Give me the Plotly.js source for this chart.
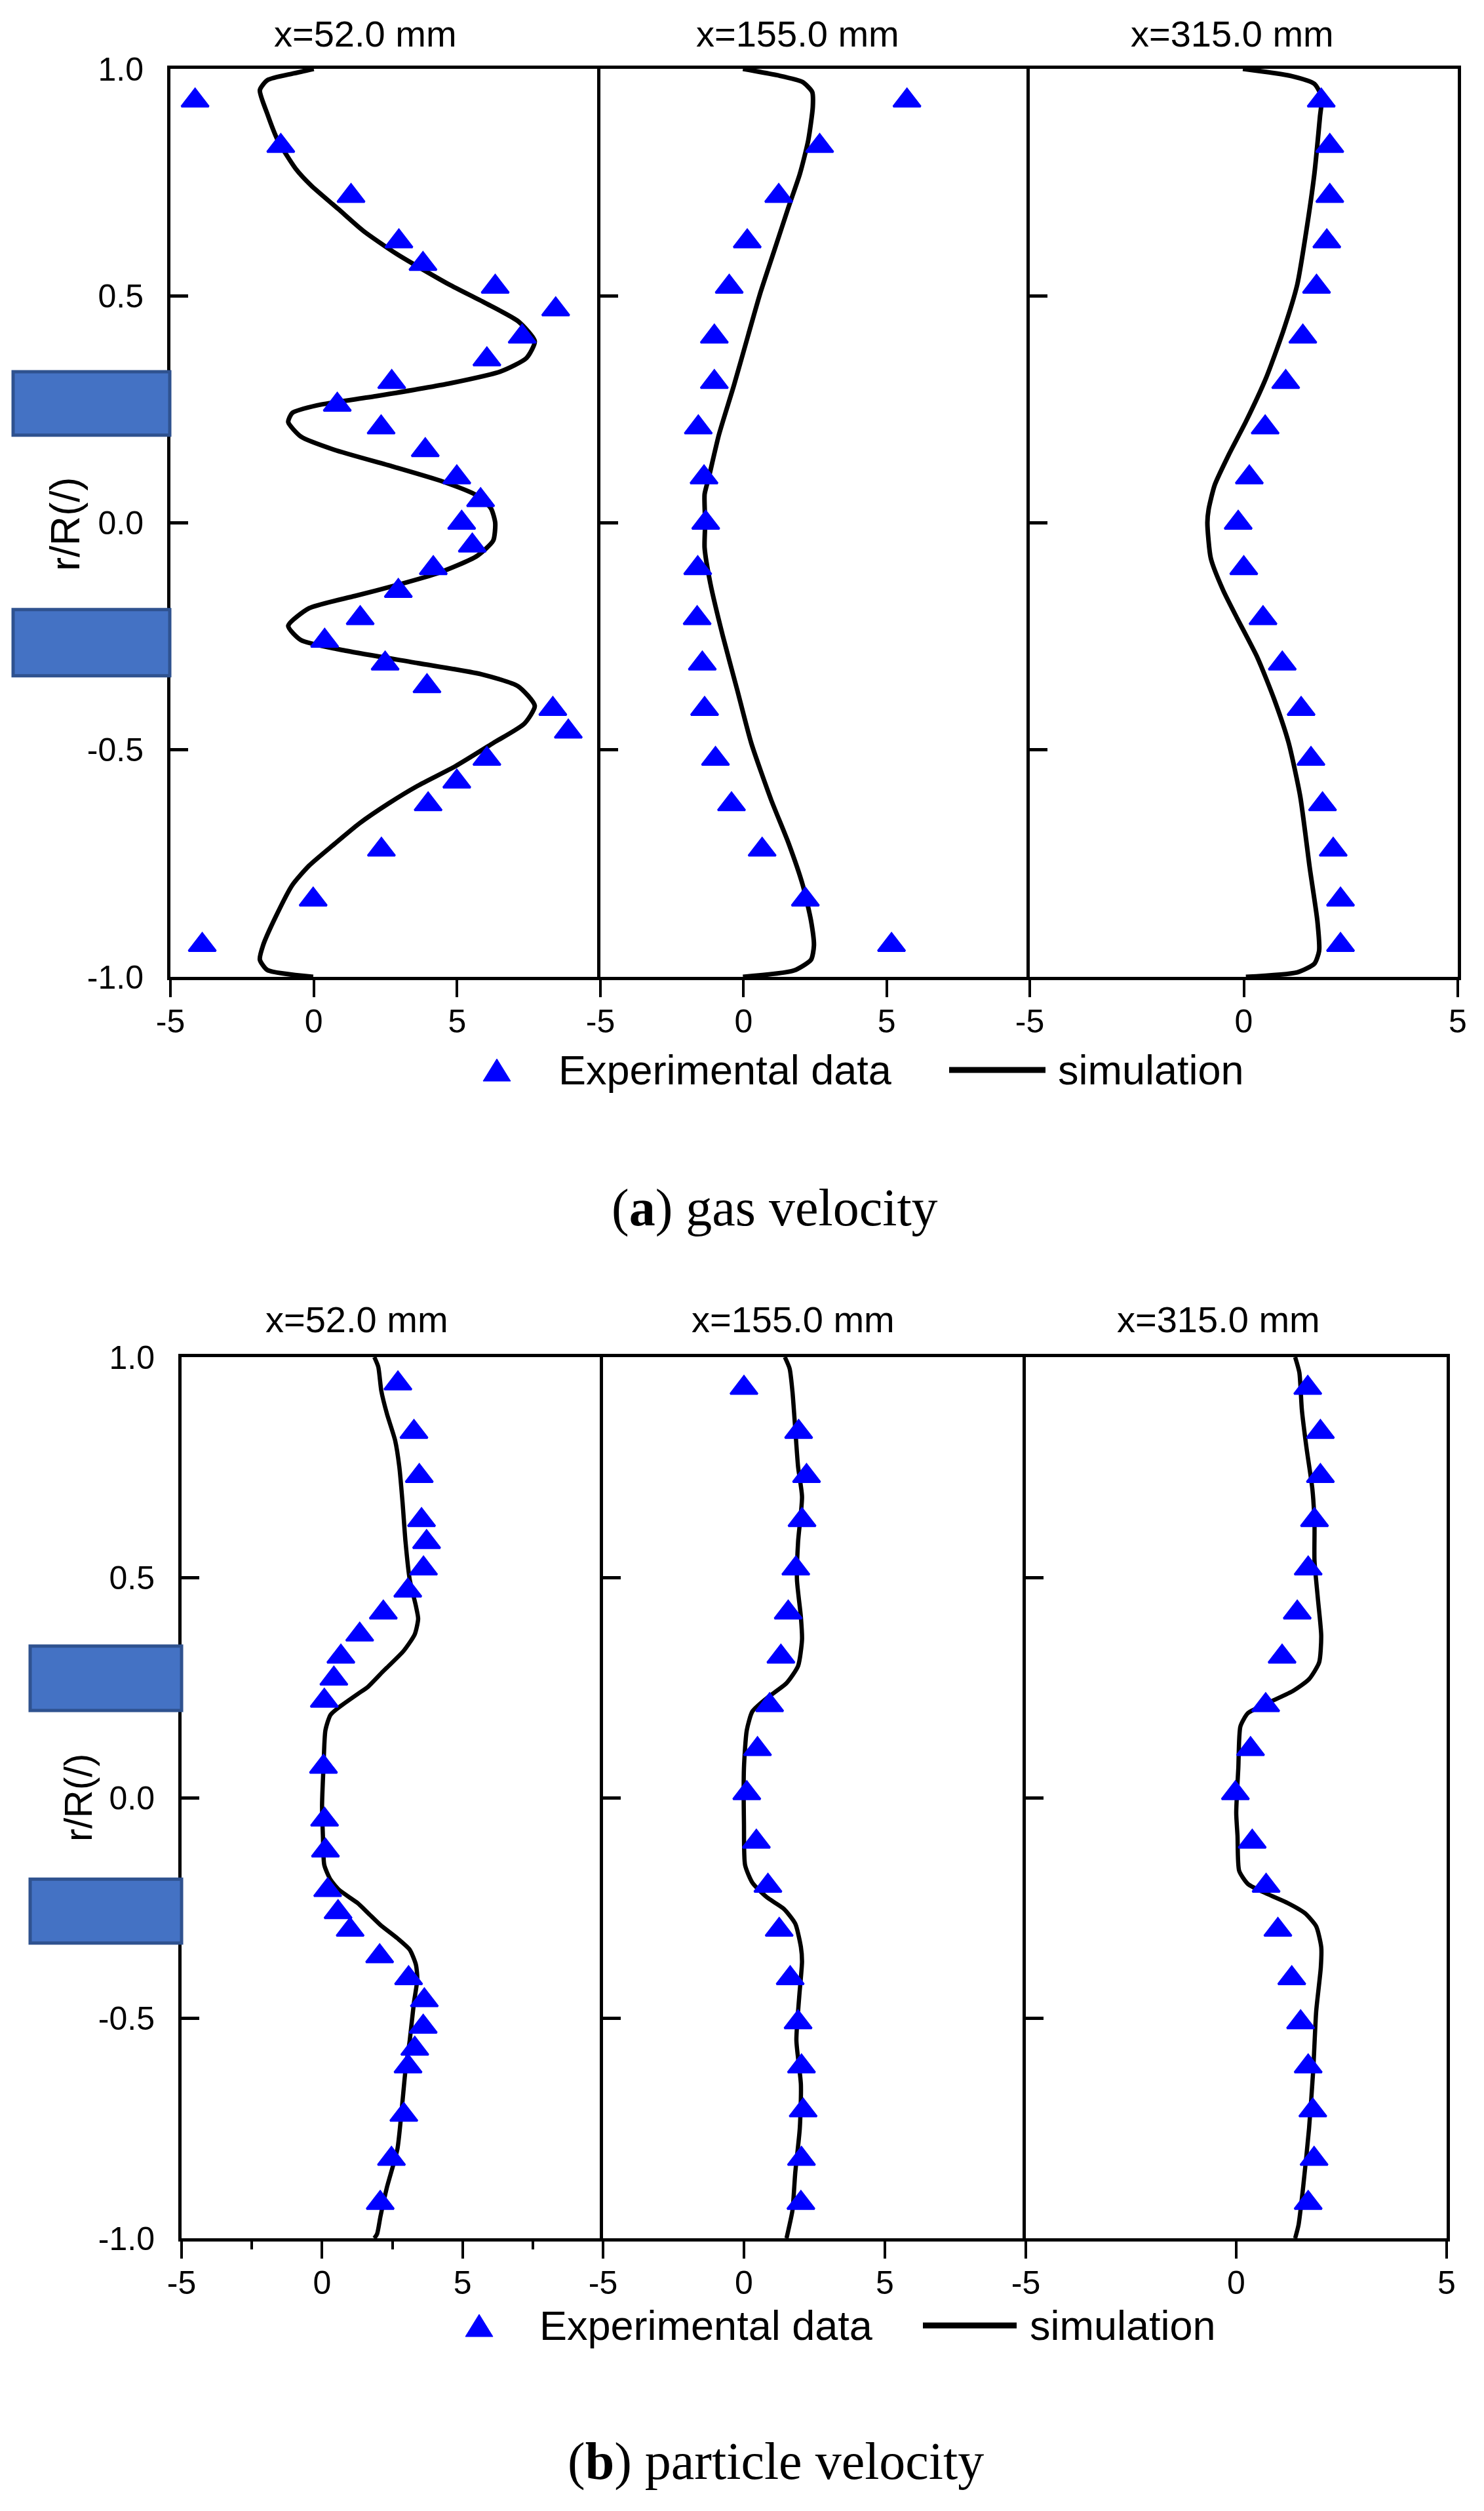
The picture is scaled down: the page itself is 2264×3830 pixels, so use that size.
<!DOCTYPE html>
<html>
<head>
<meta charset="utf-8">
<script src="https://cdn.plot.ly/plotly-3.0.1.min.js"></script>
<style>
  html, body { margin: 0; padding: 0; background: #ffffff; }
  #chart { width: 2264px; height: 3830px; }
</style>
</head>
<body>
<div id="chart"></div>
<script>
// ---------------- DATA ----------------
var panelTitles = ['x=52.0 mm', 'x=155.0 mm', 'x=315.0 mm'];
var yTickVals = [-1, -0.5, 0, 0.5, 1];
var yTickText = ['-1.0', '-0.5', '0.0', '0.5', '1.0'];
var xTickVals = [-5, 0, 5];
var xTickText = ['-5', '0', '5'];
var minorTickVals = [-2.5, 2.5, 7.5];

// (a) gas velocity - experimental
var gas52ExpR = [0.93,0.83,0.72,0.62,0.57,0.52,0.47,0.41,0.36,0.31,0.26,0.21,0.16,0.10,0.05,0.00,-0.05,-0.10,-0.15,-0.21,-0.26,-0.31,-0.36,-0.41,-0.46,-0.52,-0.57,-0.62,-0.72,-0.83,-0.93];
var gas52ExpV = [-4.14,-1.15,1.30,2.97,3.81,6.33,8.44,7.27,6.04,2.72,0.82,2.35,3.89,4.99,5.82,5.16,5.53,4.17,2.95,1.62,0.38,2.49,3.95,8.34,8.88,6.04,4.99,3.99,2.36,-0.02,-3.89];
var gas155ExpR = [0.93,0.83,0.72,0.62,0.52,0.41,0.31,0.21,0.10,0.00,-0.10,-0.21,-0.31,-0.41,-0.52,-0.62,-0.72,-0.83,-0.93];
var gas155ExpV = [5.71,2.66,1.23,0.13,-0.50,-1.02,-1.02,-1.58,-1.38,-1.32,-1.60,-1.62,-1.44,-1.36,-0.98,-0.42,0.65,2.16,5.17];
var gas315ExpR = [0.93,0.83,0.72,0.62,0.52,0.41,0.31,0.21,0.10,0.00,-0.10,-0.21,-0.31,-0.41,-0.52,-0.62,-0.72,-0.83,-0.93];
var gas315ExpV = [1.81,2.01,2.01,1.94,1.70,1.38,0.98,0.50,0.13,-0.13,0.00,0.45,0.90,1.34,1.57,1.84,2.09,2.26,2.26];

// (a) gas velocity - simulation
var gas52SimR = [1.0,0.99,0.975,0.953,0.901,0.842,0.780,0.743,0.691,0.643,0.592,0.525,0.485,0.444,0.400,0.363,0.334,0.308,0.279,0.259,0.242,0.222,0.190,0.161,0.124,0.091,0.061,0.032,0.0,-0.039,-0.074,-0.110,-0.137,-0.161,-0.188,-0.227,-0.258,-0.282,-0.309,-0.333,-0.360,-0.403,-0.442,-0.485,-0.536,-0.579,-0.618,-0.662,-0.708,-0.755,-0.798,-0.868,-0.931,-0.962,-0.985,-1.0];
var gas52SimV = [0.0,-0.7,-1.62,-1.88,-1.62,-1.25,-0.63,-0.09,0.86,1.73,2.90,4.72,5.96,7.13,7.71,7.42,6.54,4.80,2.17,0.13,-0.75,-0.89,-0.45,0.71,2.76,4.50,5.67,6.18,6.33,6.26,5.67,4.36,2.90,1.44,-0.16,-0.89,-0.45,1.15,3.63,5.82,7.13,7.71,7.35,6.26,4.94,3.63,2.61,1.59,0.71,-0.16,-0.75,-1.33,-1.77,-1.88,-1.62,-0.02];
var gas155SimR = [1.0,0.986,0.971,0.949,0.916,0.842,0.769,0.695,0.599,0.503,0.415,0.304,0.194,0.098,0.063,0.0,-0.055,-0.133,-0.250,-0.368,-0.485,-0.611,-0.705,-0.798,-0.877,-0.931,-0.962,-0.986,-1.0];
var gas155SimV = [-0.02,1.17,2.06,2.40,2.42,2.26,1.97,1.57,1.07,0.57,0.17,-0.33,-0.86,-1.22,-1.36,-1.34,-1.36,-1.16,-0.72,-0.22,0.27,0.97,1.57,2.07,2.36,2.46,2.36,1.76,-0.02];
var gas315SimR = [1.0,0.984,0.967,0.938,0.894,0.769,0.636,0.525,0.422,0.319,0.223,0.150,0.083,0.030,0.0,-0.078,-0.149,-0.211,-0.297,-0.391,-0.485,-0.603,-0.759,-0.877,-0.943,-0.971,-0.990,-1.0];
var gas315SimV = [-0.02,1.12,1.65,1.82,1.78,1.65,1.45,1.25,0.92,0.52,0.05,-0.35,-0.68,-0.82,-0.85,-0.77,-0.48,-0.15,0.32,0.72,1.05,1.32,1.54,1.72,1.76,1.65,1.25,0.05];

// (b) particle velocity - experimental
var par52ExpR = [0.94,0.83,0.73,0.63,0.58,0.52,0.47,0.42,0.37,0.32,0.27,0.22,0.07,-0.05,-0.12,-0.21,-0.26,-0.30,-0.36,-0.41,-0.46,-0.52,-0.57,-0.61,-0.72,-0.82,-0.92];
var par52ExpV = [2.70,3.27,3.46,3.54,3.72,3.61,3.05,2.18,1.34,0.67,0.42,0.08,0.05,0.09,0.12,0.20,0.57,1.00,2.05,3.08,3.64,3.60,3.30,3.06,2.91,2.47,2.07];
var par155ExpR = [0.93,0.83,0.73,0.63,0.52,0.42,0.32,0.21,0.11,0.01,-0.10,-0.20,-0.30,-0.41,-0.51,-0.61,-0.71,-0.82,-0.92];
var par155ExpV = [0.0,1.94,2.22,2.06,1.84,1.57,1.31,0.91,0.48,0.10,0.44,0.85,1.25,1.64,1.92,2.04,2.10,2.04,2.02];
var par315ExpR = [0.93,0.83,0.73,0.63,0.52,0.42,0.32,0.21,0.11,0.01,-0.10,-0.20,-0.30,-0.41,-0.51,-0.61,-0.71,-0.82,-0.92];
var par315ExpV = [1.70,2.00,2.00,1.86,1.71,1.45,1.09,0.70,0.34,-0.02,0.38,0.71,0.99,1.32,1.53,1.71,1.82,1.85,1.71];

// (b) particle velocity - simulation
var par52SimR = [1.0,0.978,0.923,0.871,0.811,0.751,0.666,0.581,0.495,0.435,0.406,0.371,0.333,0.286,0.252,0.235,0.205,0.188,0.153,0.068,-0.017,-0.086,-0.153,-0.186,-0.209,-0.239,-0.262,-0.289,-0.319,-0.345,-0.379,-0.412,-0.465,-0.551,-0.618,-0.698,-0.798,-0.884,-0.950,-0.990,-1.0];
var par52SimV = [1.86,2.0,2.11,2.31,2.60,2.75,2.87,2.97,3.12,3.34,3.42,3.30,2.90,2.16,1.64,1.26,0.60,0.30,0.12,0.05,0.0,0.03,0.08,0.30,0.60,1.26,1.64,2.08,2.68,3.12,3.34,3.39,3.27,3.12,2.97,2.85,2.68,2.31,2.08,1.96,1.86];
var par155SimR = [1.0,0.974,0.922,0.837,0.751,0.683,0.581,0.495,0.410,0.359,0.299,0.260,0.226,0.196,0.153,0.068,-0.060,-0.153,-0.193,-0.226,-0.252,-0.286,-0.339,-0.372,-0.452,-0.551,-0.651,-0.751,-0.851,-0.937,-0.983,-1.0];
var par155SimV = [1.45,1.62,1.72,1.82,1.92,2.06,1.92,1.88,2.02,2.06,1.92,1.51,0.81,0.30,0.10,0.0,0.0,0.04,0.30,0.81,1.41,1.82,2.02,2.06,1.96,1.86,2.02,1.98,1.82,1.72,1.57,1.51];
var par315SimR = [1.0,0.965,0.880,0.794,0.700,0.623,0.538,0.452,0.367,0.307,0.269,0.243,0.218,0.192,0.162,0.068,-0.035,-0.086,-0.166,-0.196,-0.219,-0.239,-0.262,-0.292,-0.339,-0.385,-0.485,-0.618,-0.751,-0.884,-0.970,-1.0];
var par315SimV = [1.40,1.50,1.56,1.67,1.81,1.86,1.86,1.94,2.02,1.97,1.73,1.36,0.82,0.28,0.10,0.05,0.0,0.03,0.07,0.28,0.75,1.22,1.63,1.90,2.02,2.01,1.90,1.83,1.73,1.59,1.48,1.40];

// inlet blocks (r/R extents) drawn at left of each group
var gasInletR = [[0.193, 0.333], [-0.337, -0.191]];
var parInletR = [[0.198, 0.344], [-0.330, -0.185]];

var legendLabels = ['Experimental data', 'simulation'];
var captions = ['(<b>a</b>) gas velocity', '(<b>b</b>) particle velocity'];

// ---------------- STYLE ----------------
var W = 2264, H = 3830;
function px(x) { return x / W; }
function py(y) { return 1 - y / H; }
var SANS = 'Liberation Sans, Arial, sans-serif';
var SERIF = 'Liberation Serif, Times New Roman, serif';
var BLUE = '#0000ff';

function expTrace(v, r, xa, ya) {
  return {x: v, y: r, xaxis: xa, yaxis: ya, type: 'scatter', mode: 'markers',
    marker: {symbol: 'triangle-up', size: 36, color: BLUE, line: {color: BLUE, width: 3}},
    showlegend: false, hoverinfo: 'skip', cliponaxis: false};
}
function simTrace(v, r, xa, ya, w) {
  return {x: v, y: r, xaxis: xa, yaxis: ya, type: 'scatter', mode: 'lines',
    line: {color: 'black', width: w, shape: 'spline', smoothing: 0.6},
    showlegend: false, hoverinfo: 'skip'};
}

var traces = [
  simTrace(gas52SimV, gas52SimR, 'x', 'y', 7),
  expTrace(gas52ExpV, gas52ExpR, 'x', 'y'),
  simTrace(gas155SimV, gas155SimR, 'x2', 'y2', 7),
  expTrace(gas155ExpV, gas155ExpR, 'x2', 'y2'),
  simTrace(gas315SimV, gas315SimR, 'x3', 'y3', 7),
  expTrace(gas315ExpV, gas315ExpR, 'x3', 'y3'),
  simTrace(par52SimV, par52SimR, 'x4', 'y4', 6.5),
  expTrace(par52ExpV, par52ExpR, 'x4', 'y4'),
  simTrace(par155SimV, par155SimR, 'x5', 'y5', 6.5),
  expTrace(par155ExpV, par155ExpR, 'x5', 'y5'),
  simTrace(par315SimV, par315SimR, 'x6', 'y6', 6.5),
  expTrace(par315ExpV, par315ExpR, 'x6', 'y6')
];

function xAxis(dom, range, anchor, withMinor) {
  var o = {domain: dom, range: range, anchor: anchor,
    tickmode: 'array', tickvals: xTickVals, ticktext: xTickText,
    ticks: 'outside', ticklen: 26, tickwidth: 4, tickcolor: 'black',
    showline: true, linewidth: 5, linecolor: 'black', mirror: true,
    showgrid: false, zeroline: false, fixedrange: true, ticklabelstandoff: -6,
    tickfont: {family: SANS, size: 50, color: 'black'}};
  if (withMinor) {
    o.minor = {tickmode: 'array', tickvals: minorTickVals, ticks: 'outside', ticklen: 12,
      tickwidth: 4, tickcolor: 'black', showgrid: false};
  }
  return o;
}
function yAxis(dom, anchor, labels, mirror) {
  return {domain: dom, range: [-1, 1], anchor: anchor,
    tickmode: 'array', tickvals: yTickVals, ticktext: yTickText,
    ticks: 'inside', ticklen: 27, tickwidth: 5, tickcolor: 'black',
    showline: true, linewidth: 5, linecolor: 'black', mirror: mirror,
    showgrid: false, zeroline: false, fixedrange: true,
    showticklabels: labels, ticklabelstandoff: 26,
    tickfont: {family: SANS, size: 50, color: 'black'}};
}

var topY = [py(1490), py(105)];
var botY = [py(3414), py(2070)];

var layout = {
  width: W, height: H,
  margin: {l: 0, r: 0, t: 0, b: 0, pad: 0},
  paper_bgcolor: 'white', plot_bgcolor: 'white',
  showlegend: false,
  font: {family: SANS, color: 'black'},
  xaxis:  xAxis([px(260), px(916)], [-5, 10], 'y', false),
  xaxis2: xAxis([px(916), px(1571)], [-5, 10], 'y2', false),
  xaxis3: xAxis([px(1571), px(2224)], [-5, 5], 'y3', false),
  yaxis:  yAxis(topY, 'x', true, false),
  yaxis2: yAxis(topY, 'x2', false, false),
  yaxis3: yAxis(topY, 'x3', false, true),
  xaxis4: xAxis([px(277), px(920)], [-5, 10], 'y4', true),
  xaxis5: xAxis([px(920), px(1565)], [-5, 10], 'y5', false),
  xaxis6: xAxis([px(1565), px(2207)], [-5, 5], 'y6', false),
  yaxis4: yAxis(botY, 'x4', true, false),
  yaxis5: yAxis(botY, 'x5', false, false),
  yaxis6: yAxis(botY, 'x6', false, true),
  shapes: [],
  annotations: []
};

// inlet blocks
function inlet(x0, x1, yref, rr) {
  return {type: 'rect', xref: 'paper', yref: yref, x0: x0, x1: x1, y0: rr[0], y1: rr[1],
    fillcolor: '#4472c4', line: {color: '#2f528f', width: 5}, layer: 'above'};
}
gasInletR.forEach(function(rr) { layout.shapes.push(inlet(px(20), px(259), 'y', rr)); });
parInletR.forEach(function(rr) { layout.shapes.push(inlet(px(46), px(277), 'y4', rr)); });

// panel titles
var topTitleX = [557, 1217, 1880], botTitleX = [544, 1210, 1859];
panelTitles.forEach(function(t, i) {
  layout.annotations.push({text: t, xref: 'paper', yref: 'paper', x: px(topTitleX[i]), y: py(52),
    xanchor: 'center', yanchor: 'middle', showarrow: false, font: {family: SANS, size: 56, color: 'black'}});
  layout.annotations.push({text: t, xref: 'paper', yref: 'paper', x: px(botTitleX[i]), y: py(2012),
    xanchor: 'center', yanchor: 'middle', showarrow: false, font: {family: SANS, size: 56, color: 'black'}});
});

// y axis titles
layout.annotations.push({text: 'r/R(/)', xref: 'paper', yref: 'paper', x: px(99), y: py(800),
  xanchor: 'center', yanchor: 'middle', textangle: -90, showarrow: false, font: {family: SANS, size: 63, color: 'black'}});
layout.annotations.push({text: 'r/R(/)', xref: 'paper', yref: 'paper', x: px(120), y: py(2742),
  xanchor: 'center', yanchor: 'middle', textangle: -90, showarrow: false, font: {family: SANS, size: 59, color: 'black'}});

// legends (manual, to match long line key)
function legend(triX, y, textX, lineX0, lineX1, simX) {
  layout.shapes.push({type: 'path', xref: 'paper', yref: 'paper', xsizemode: 'pixel', ysizemode: 'pixel',
    xanchor: px(triX), yanchor: py(y), path: 'M-21,-17 L21,-17 L0,17 Z',
    fillcolor: BLUE, line: {color: BLUE, width: 1}});
  layout.shapes.push({type: 'line', xref: 'paper', yref: 'paper', x0: px(lineX0), x1: px(lineX1),
    y0: py(y), y1: py(y), line: {color: 'black', width: 9}});
  layout.annotations.push({text: legendLabels[0], xref: 'paper', yref: 'paper', x: px(textX), y: py(y),
    xanchor: 'left', yanchor: 'middle', showarrow: false, font: {family: SANS, size: 63, color: 'black'}});
  layout.annotations.push({text: legendLabels[1], xref: 'paper', yref: 'paper', x: px(simX), y: py(y),
    xanchor: 'left', yanchor: 'middle', showarrow: false, font: {family: SANS, size: 63, color: 'black'}});
}
legend(758, 1632, 850, 1448, 1595, 1612);
legend(731, 3547, 821, 1408, 1551, 1569);

// captions
layout.annotations.push({text: captions[0], xref: 'paper', yref: 'paper', x: px(1182), y: py(1842),
  xanchor: 'center', yanchor: 'middle', showarrow: false, font: {family: SERIF, size: 80, color: 'black'}});
layout.annotations.push({text: captions[1], xref: 'paper', yref: 'paper', x: px(1183), y: py(3754),
  xanchor: 'center', yanchor: 'middle', showarrow: false, font: {family: SERIF, size: 80, color: 'black'}});

Plotly.newPlot('chart', traces, layout, {displayModeBar: false, staticPlot: true});
</script>
</body>
</html>
